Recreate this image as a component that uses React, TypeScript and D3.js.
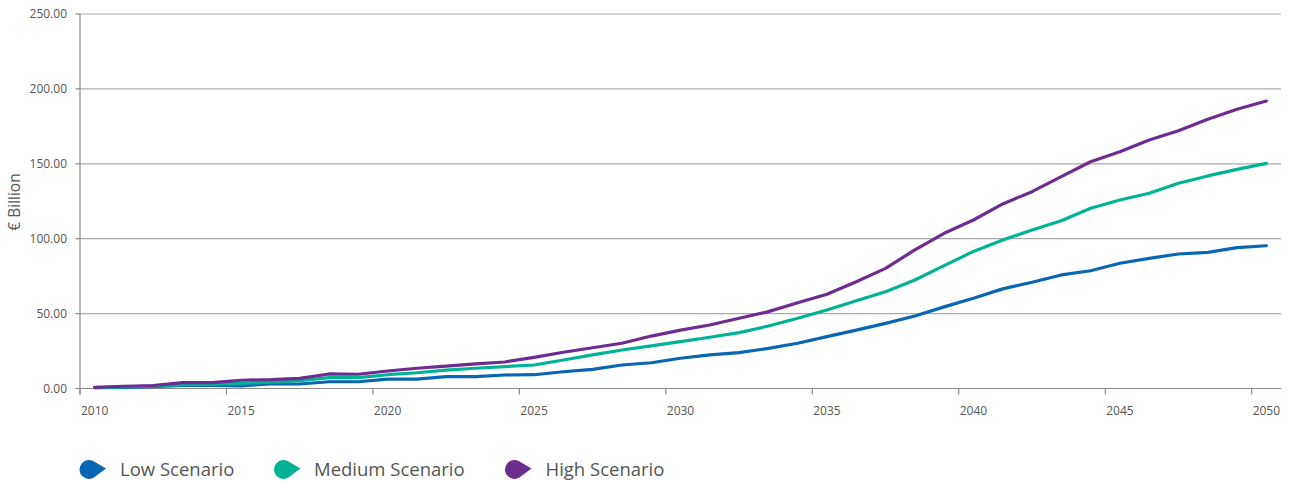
import React from "react";
import * as d3 from "d3";

const years: number[] = d3.range(2010, 2051);

const lowScenario: number[] = [
  0.5, 0.8, 1.3, 2.0, 2.0, 1.8, 3.0, 3.0, 4.5, 4.5,
  6.3, 6.3, 7.9, 7.9, 9.0, 9.2, 11.2, 12.8, 15.7, 17.2,
  20.2, 22.4, 23.9, 26.8, 30.2, 34.6, 39.0, 43.5, 48.4, 54.5,
  60.2, 66.5, 70.9, 75.8, 78.6, 83.6, 86.9, 89.8, 90.9, 94.0, 95.3,
];

const mediumScenario: number[] = [
  0.6, 1.0, 1.6, 2.5, 2.8, 3.5, 4.2, 5.2, 7.2, 7.3,
  9.2, 10.5, 12.3, 13.5, 14.6, 15.7, 19.0, 22.4, 25.7, 28.4,
  31.3, 34.2, 37.3, 41.7, 46.9, 52.4, 58.6, 64.6, 72.4, 82.0,
  91.5, 99.1, 105.8, 112.0, 120.3, 125.8, 130.3, 137.0, 141.9, 146.3, 150.3,
];

const highScenario: number[] = [
  0.8, 1.5, 2.0, 3.9, 3.9, 5.5, 5.9, 6.8, 9.7, 9.5,
  11.7, 13.5, 15.0, 16.4, 17.7, 20.8, 24.2, 27.2, 30.2, 35.0,
  39.0, 42.4, 46.9, 51.3, 57.3, 62.9, 71.3, 80.2, 92.5, 103.6,
  112.5, 123.2, 131.4, 141.4, 151.4, 158.1, 165.9, 172.1, 179.7, 186.4, 191.9,
];

const seriesNames: string[] = ["Low Scenario", "Medium Scenario", "High Scenario"];
const seriesColors: string[] = ["#0866b2", "#00b394", "#6d2c8f"];
const yTicks: number[] = [0, 50, 100, 150, 200, 250];
const xTickYears: number[] = [2010, 2015, 2020, 2025, 2030, 2035, 2040, 2045, 2050];
const yAxisTitle = "€ Billion";

const W = 1290;
const H = 481;
const left = 80;
const right = 1281;
const top = 14;
const bottom = 388.5;
const font = "'Open Sans', 'Noto Sans', sans-serif";

export default function App() {
  const x = d3.scaleBand<number>().domain(years).range([left, right]).padding(0);
  const y = d3.scaleLinear().domain([0, 250]).range([bottom, top]);
  const cx = (yr: number) => (x(yr) as number) + x.bandwidth() / 2;

  const line = d3
    .line<number>()
    .x((_, i) => cx(years[i]))
    .y((d) => y(d))
    .curve(d3.curveLinear);

  const data = [lowScenario, mediumScenario, highScenario];

  const legendMarkerX = [89, 283.5, 514.5];
  const legendTextX = [120, 314, 545.5];
  const legendY = 469.5;

  const marker = (mx: number, my: number) => {
    const r = 9.5;
    const p = d3.path();
    p.moveTo(mx + r * Math.cos(-0.9), my + r * Math.sin(-0.9));
    p.lineTo(mx + 17, my - 1);
    p.lineTo(mx + r * Math.cos(0.75), my + r * Math.sin(0.75));
    p.arc(mx, my, r, 0.75, 2 * Math.PI - 0.9);
    p.closePath();
    return p.toString();
  };

  return (
    <svg
      width={W}
      height={H}
      style={{ position: "absolute", left: 0, top: 0, background: "#fff" }}
    >
      {/* gridlines */}
      {yTicks.map((t) => (
        <line
          key={"g" + t}
          x1={left}
          x2={right}
          y1={y(t)}
          y2={y(t)}
          stroke={t === 0 ? "#8a8a8a" : "#ababab"}
          strokeWidth={1.2}
        />
      ))}
      {/* y axis */}
      <line x1={left} x2={left} y1={top} y2={bottom + 6} stroke="#8a8a8a" strokeWidth={1.2} />
      {yTicks.map((t) => (
        <g key={"yt" + t}>
          <line x1={left - 4.5} x2={left} y1={y(t)} y2={y(t)} stroke="#8a8a8a" strokeWidth={1.2} />
          <text
            x={67}
            y={y(t)}
            dy="0.35em"
            textAnchor="end"
            fontFamily={font}
            fontSize={12}
            fill="#555"
          >
            {t.toFixed(2)}
          </text>
        </g>
      ))}
      {/* x axis ticks and labels */}
      {xTickYears.map((yr) => (
        <g key={"xt" + yr}>
          <line
            x1={x(yr) as number}
            x2={x(yr) as number}
            y1={bottom}
            y2={bottom + 6}
            stroke="#8a8a8a"
            strokeWidth={1.2}
          />
          <text
            x={cx(yr)}
            y={415}
            textAnchor="middle"
            fontFamily={font}
            fontSize={12}
            fill="#555"
          >
            {yr}
          </text>
        </g>
      ))}
      {/* y axis title */}
      <text
        transform={`translate(20, 202) rotate(-90)`}
        textAnchor="middle"
        fontFamily={font}
        fontSize={15.5}
        fill="#555"
      >
        {yAxisTitle}
      </text>
      {/* lines */}
      {data.map((d, i) => (
        <path
          key={"l" + i}
          d={line(d) || ""}
          fill="none"
          stroke={seriesColors[i]}
          strokeWidth={3.2}
          strokeLinejoin="round"
          strokeLinecap="round"
        />
      ))}
      {/* legend */}
      {seriesNames.map((name, i) => (
        <g key={"lg" + i}>
          <path d={marker(legendMarkerX[i], legendY)} fill={seriesColors[i]} />
          <text
            x={legendTextX[i]}
            y={475.5}
            fontFamily={font}
            fontSize={18.5}
            fill="#555"
          >
            {name}
          </text>
        </g>
      ))}
    </svg>
  );
}
